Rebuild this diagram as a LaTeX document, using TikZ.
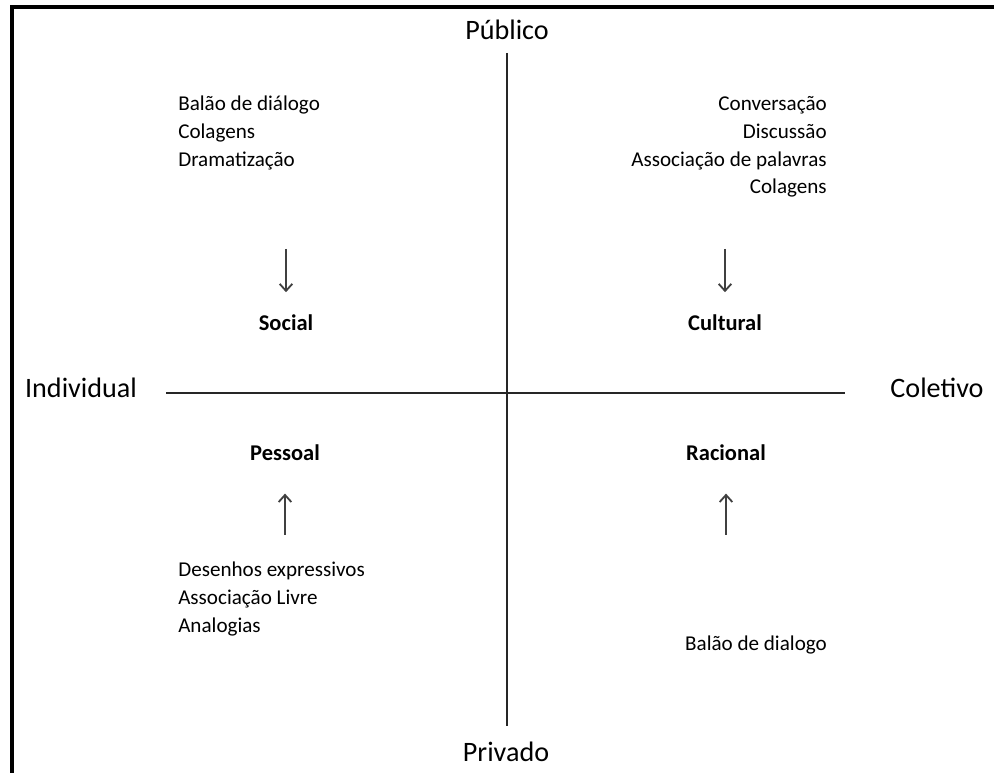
\documentclass[tikz,border=0pt]{standalone}
\usepackage{fontspec}
\setmainfont{Carlito}
\usetikzlibrary{arrows.meta}
\tikzset{
  eixo/.style={line width=1.6pt, draw=black!85},
  seta/.style={-{Straight Barb[length=5pt,width=9pt]}, line width=1.3pt, draw=black!75},
  polo/.style={font=\fontsize{20}{24}\selectfont, inner sep=0pt, text=black},
  quadrante/.style={font=\fontsize{16}{19}\selectfont\bfseries, inner sep=0pt, text=black},
  lista/.style={font=\fontsize{15}{19.8}\selectfont, inner sep=0pt, text=black},
}
\begin{document}
\begin{tikzpicture}[x=0.025cm,y=-0.025cm]
	\useasboundingbox (0,0) rectangle (994,773);
	% moldura
	\draw[line width=2.6pt] (12,773) -- (12,7) -- (994,7);
	
	% polos e eixos
	\node[polo] (publico) at (507,30) {Público};
	\node[polo] (privado) at (506,752) {Privado};
	\node[polo] (individual) at (81,388) {Individual};
	\node[polo] (coletivo) at (937,388) {Coletivo};
	\coordinate (topo) at (507,53);
	\coordinate (base) at (507,726);
	\coordinate (esq) at (166,393);
	\coordinate (dir) at (845,393);
	\draw[eixo] (topo)--(base);
	\draw[eixo] (esq)--(dir);
	
	% quadrantes
	\node[quadrante] (social) at (286,323) {Social};
	\node[quadrante] (cultural) at (725,323) {Cultural};
	\node[quadrante] (pessoal) at (285,453) {Pessoal};
	\node[quadrante] (racional) at (726,453) {Racional};
	
	% listas
	\node[lista,anchor=north west,align=left] (listaSocial) at (178,96) {Balão de diálogo\\Colagens\\Dramatização};
	\node[lista,anchor=north east,align=right] (listaCultural) at (827,96) {Conversação\\Discussão\\Associação de palavras\\Colagens};
	\node[lista,anchor=north west,align=left] (listaPessoal) at (178,562) {Desenhos expressivos\\Associação Livre\\Analogias};
	\node[lista] (listaRacional) at (756,645) {Balão de dialogo};
	
	% setas
	\coordinate (s1) at (286,249);
	\coordinate (s2) at (725,249);
	\coordinate (s3) at (285,535);
	\coordinate (s4) at (726,535);
	\draw[seta,shorten >=16pt] (s1)--(social);
	\draw[seta,shorten >=16pt] (s2)--(cultural);
	\draw[seta,shorten >=23pt] (s3)--(pessoal);
	\draw[seta,shorten >=23pt] (s4)--(racional);
	
\end{tikzpicture}
\end{document}
